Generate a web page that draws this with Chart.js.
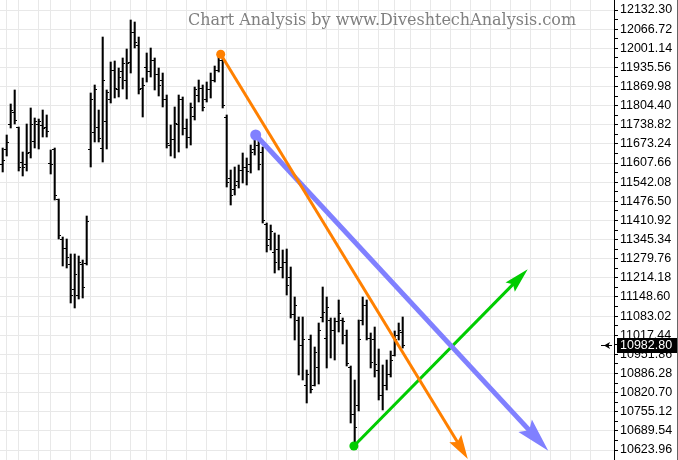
<!DOCTYPE html>
<html>
<head>
<meta charset="utf-8">
<script src="https://cdn.jsdelivr.net/npm/chart.js@4/dist/chart.umd.min.js"></script>
<style>
  html, body { margin: 0; padding: 0; background: #fff; }
  #wrap { width: 678px; height: 460px; }
</style>
</head>
<body>
<div id="wrap"><canvas id="myChart" width="678" height="460"></canvas></div>
<script>
// daily OHLC bars (bar index 0..100)
let opens = [
  11601.0, 11652.4, 11738.1, 11782.6, 11727.8, 11611.2, 11601.0, 11642.1, 11683.2, 11738.1,
  11734.7, 11727.8, 11607.8, 11652.4, 11481.0, 11343.9, 11316.4, 11258.2, 11172.5, 11155.3,
  11258.2, 11265.0, 11652.4, 11710.7, 11727.8, 11659.2, 11748.4, 11823.8, 11926.6, 11858.1,
  11919.8, 11892.3, 11954.0, 12053.5, 12012.3, 11864.9, 11936.9, 11919.8, 11960.9, 11909.5,
  11892.3, 11823.8, 11669.5, 11686.7, 11738.1, 11823.8, 11724.4, 11696.9, 11768.9, 11840.9,
  11861.5, 11823.8, 11858.1, 11892.3, 11926.6, 11960.9, 11762.1, 11553.0, 11515.3, 11542.7,
  11583.8, 11590.7, 11601.0, 11652.4, 11669.5, 11642.1, 11395.3, 11343.9, 11299.3, 11309.6,
  11247.9, 11268.4, 11217.0, 11086.8, 11069.6, 10983.9, 10846.8, 11001.1, 10846.8, 10905.1,
  11076.5, 11007.9, 11069.6, 11035.3, 11062.8, 11069.6, 11018.2, 10908.5, 10744.0, 10778.2,
  11069.6, 11121.0, 11007.9, 11001.1, 10898.2, 10812.5, 10846.8, 10881.1, 10949.6, 11018.2,
  11025.1
];
let highs = [
  11659.2, 11703.8, 11810.1, 11858.1, 11731.2, 11645.5, 11741.5, 11796.4, 11762.1, 11758.6,
  11789.5, 11772.4, 11652.4, 11659.2, 11484.4, 11354.1, 11347.3, 11295.9, 11295.9, 11289.0,
  11275.3, 11426.1, 11847.8, 11875.2, 11789.5, 12039.7, 11858.1, 11954.0, 11957.5, 11933.5,
  11967.8, 11998.6, 12098.0, 12091.2, 12039.7, 11899.2, 11984.9, 12002.0, 11967.8, 11933.5,
  11916.3, 11840.9, 11738.1, 11799.8, 11840.9, 11834.1, 11758.6, 11813.5, 11868.3, 11892.3,
  11875.2, 11885.5, 11916.3, 11940.3, 11978.0, 11971.2, 11772.4, 11583.8, 11594.1, 11601.0,
  11642.1, 11625.0, 11669.5, 11696.9, 11686.7, 11662.7, 11402.1, 11395.3, 11367.9, 11361.0,
  11309.6, 11313.0, 11251.3, 11148.5, 11079.9, 11079.9, 10898.2, 11018.2, 10977.1, 11059.3,
  11182.7, 11148.5, 11076.5, 11076.5, 11138.2, 11076.5, 11035.3, 10911.9, 10863.9, 11069.6,
  11148.5, 11138.2, 11025.1, 11045.6, 10970.2, 10915.4, 10932.5, 10963.4, 11031.9, 11059.3,
  11079.9
];
let lows = [
  11577.0, 11631.8, 11727.8, 11741.5, 11580.4, 11563.3, 11580.4, 11625.0, 11659.2, 11655.8,
  11696.9, 11696.9, 11570.1, 11481.0, 11347.3, 11254.7, 11247.9, 11127.9, 11110.8, 11141.6,
  11145.0, 11258.2, 11594.1, 11679.8, 11679.8, 11611.2, 11655.8, 11813.5, 11830.6, 11834.1,
  11861.5, 11827.2, 11916.3, 12002.0, 11844.4, 11765.5, 11885.5, 11902.6, 11858.1, 11837.5,
  11799.8, 11659.2, 11631.8, 11625.0, 11645.5, 11703.8, 11659.2, 11669.5, 11755.2, 11816.9,
  11786.1, 11816.9, 11830.6, 11885.5, 11919.8, 11796.4, 11525.5, 11463.8, 11498.1, 11522.1,
  11539.3, 11532.4, 11573.5, 11635.2, 11583.8, 11402.1, 11302.7, 11309.6, 11230.7, 11241.0,
  11213.6, 11155.3, 11076.5, 11001.1, 10881.1, 10863.9, 10785.1, 10819.4, 10843.4, 10850.2,
  11062.8, 10905.1, 10939.4, 10932.5, 11028.5, 10987.4, 10911.9, 10716.5, 10637.7, 10757.7,
  11052.5, 11001.1, 10905.1, 10874.2, 10795.4, 10761.1, 10829.7, 10874.2, 10946.2, 11001.1,
  10973.6
];
let closes = [
  11614.7, 11679.8, 11789.5, 11755.2, 11594.1, 11594.1, 11638.7, 11738.1, 11748.4, 11748.4,
  11724.4, 11714.1, 11601.0, 11498.1, 11357.6, 11316.4, 11282.2, 11151.9, 11223.9, 11268.4,
  11182.7, 11405.6, 11827.2, 11858.1, 11693.5, 11892.3, 11847.8, 11926.6, 11861.5, 11902.6,
  11947.2, 11950.6, 12053.5, 12019.2, 11858.1, 11871.8, 11919.8, 11960.9, 11909.5, 11875.2,
  11823.8, 11673.0, 11686.7, 11744.9, 11823.8, 11724.4, 11696.9, 11796.4, 11858.1, 11861.5,
  11796.4, 11858.1, 11892.3, 11926.6, 11960.9, 11806.6, 11539.3, 11494.7, 11532.4, 11583.8,
  11594.1, 11577.0, 11645.5, 11686.7, 11601.0, 11412.4, 11326.7, 11371.3, 11268.4, 11251.3,
  11268.4, 11189.6, 11086.8, 11121.0, 10983.9, 11001.1, 10881.1, 10829.7, 10956.5, 11035.3,
  11097.0, 11110.8, 11035.3, 11062.8, 11093.6, 11062.8, 10922.2, 10744.0, 10702.8, 11001.1,
  11121.0, 11007.9, 10925.6, 10915.4, 10812.5, 10846.8, 10881.1, 10932.5, 11001.1, 11035.3,
  10982.80
];
let lastPrice = 10982.80;

// price axis labels
let priceTicks = [
  12132.30, 12066.72, 12001.14, 11935.56, 11869.98, 11804.40, 11738.82, 11673.24,
  11607.66, 11542.08, 11476.50, 11410.92, 11345.34, 11279.76, 11214.18, 11148.60,
  11083.02, 11017.44, 10951.86, 10886.28, 10820.70, 10755.12, 10689.54, 10623.96
];
let yMin = 10589.70, yMax = 12166.58;
// bar index of each week start (vertical grid), the axis runs on past the last bar
let weekStarts = [1, 4, 9, 12, 17, 22, 27, 32, 36, 41, 46, 51, 56, 61, 66, 71, 76, 81, 84,
  89, 94, 98, 102, 107, 112, 117, 122, 127, 132, 137, 142, 147];
let xMin = -0.675, xMax = 152.825;

// drawn trend lines: [barIndex, price] at the dot and at the back of the arrowhead
let orangeLine = [[54.5, 11980.5], [113.8, 10648.7]];
let blueLine = [[63.25, 11703.8], [131.8, 10689.5]];
let greenLine = [[87.8, 10637.7], [127.75, 11194.4]];

let title = 'Chart Analysis by www.DiveshtechAnalysis.com';

// tiny open / close tick images used as point styles
function tickMark(side) {
  let c = document.createElement('canvas');
  c.width = 5; c.height = 1;
  let g = c.getContext('2d');
  g.fillStyle = '#000';
  g.fillRect(side == 'left' ? 0 : 3, 0, 2, 1);
  return c;
}

let minorTicks = [];
for (let i = 0; i < priceTicks.length - 1; i++) {
  minorTicks.push((priceTicks[i] + priceTicks[i + 1]) / 2);
}
let allTicks = priceTicks.concat(minorTicks).sort((a, b) => a - b);
let isMajor = v => priceTicks.some(p => Math.abs(p - v) < 0.001);

function trend(pts, color, width, dot, arrow) {
  return {
    type: 'line',
    data: pts.map(p => ({x: p[0], y: p[1]})),
    borderColor: color,
    borderWidth: width,
    pointRadius: [dot, 0],
    pointBackgroundColor: color,
    pointBorderWidth: 0,
    pointHoverRadius: 0,
    fill: false,
    tension: 0,
    arrow: arrow
  };
}

let watermark = {
  id: 'watermark',
  beforeDatasetsDraw(chart) {
    let ctx = chart.ctx;
    ctx.save();
    ctx.font = '16px "DejaVu Serif"';
    ctx.fillStyle = '#808080';
    ctx.textAlign = 'center';
    ctx.textBaseline = 'alphabetic';
    ctx.fillText(title, 382, 25);
    ctx.restore();
  }
};

let arrowHeads = {
  id: 'arrowHeads',
  afterDatasetsDraw(chart) {
    let {ctx, chartArea} = chart;
    ctx.save();
    ctx.beginPath();
    ctx.rect(chartArea.left, chartArea.top, chartArea.width, chartArea.height);
    ctx.clip();
    chart.data.datasets.forEach((ds, i) => {
      if (!ds.arrow) return;
      let pts = chart.getDatasetMeta(i).data;
      let a = pts[0], b = pts[1];
      let dx = b.x - a.x, dy = b.y - a.y, len = Math.hypot(dx, dy);
      let ux = dx / len, uy = dy / len, nx = -uy, ny = ux;
      let {reach, back, half} = ds.arrow;
      let tx = b.x + ux * reach, ty = b.y + uy * reach;
      ctx.beginPath();
      ctx.moveTo(tx, ty);
      ctx.lineTo(tx - ux * back + nx * half, ty - uy * back + ny * half);
      ctx.lineTo(b.x - ux * 1, b.y - uy * 1);
      ctx.lineTo(tx - ux * back - nx * half, ty - uy * back - ny * half);
      ctx.closePath();
      ctx.fillStyle = ds.borderColor;
      ctx.fill();
    });
    ctx.restore();
  }
};

let priceMarker = {
  id: 'priceMarker',
  afterDraw(chart) {
    let {ctx, chartArea} = chart;
    let y = Math.round(chart.scales.y.getPixelForValue(lastPrice));
    let r = chartArea.right;
    ctx.save();
    ctx.fillStyle = '#000';
    ctx.fillRect(r + 3, y - 7, 61, 15);
    ctx.fillStyle = '#fff';
    ctx.font = '12.5px "Liberation Sans"';
    ctx.textBaseline = 'middle';
    ctx.fillText(lastPrice.toFixed(2), r + 6, y + 1);
    // little arrow left of the axis
    ctx.strokeStyle = '#000';
    ctx.lineWidth = 1;
    ctx.beginPath();
    ctx.moveTo(r - 13, y + 0.5);
    ctx.lineTo(r - 2, y + 0.5);
    ctx.stroke();
    ctx.fillStyle = '#000';
    ctx.beginPath();
    ctx.moveTo(r - 10, y + 0.5);
    ctx.lineTo(r - 4, y - 3);
    ctx.lineTo(r - 5.5, y + 0.5);
    ctx.lineTo(r - 4, y + 4);
    ctx.closePath();
    ctx.fill();
    // frame line on the right edge
    ctx.fillStyle = '#666';
    ctx.fillRect(chart.width - 1, 0, 1, chart.height);
    ctx.restore();
  }
};

let ctx = document.getElementById('myChart');
let myChart = new Chart(ctx, {
  type: 'bar',
  data: {
    datasets: [
      trend(orangeLine, '#ff8000', 3, 4.5, {reach: 19, back: 24, half: 7}),
      trend(blueLine, '#8080ff', 5, 5.5, {reach: 27, back: 34, half: 9.2}),
      trend(greenLine, '#00cc00', 3, 4.5, {reach: 20, back: 25, half: 6.5}),
      {
        type: 'scatter',
        data: opens.map((v, i) => ({x: i, y: v})),
        pointStyle: tickMark('left'),
        pointRadius: 2,
        pointHoverRadius: 0,
        pointBorderWidth: 0
      },
      {
        type: 'scatter',
        data: closes.map((v, i) => ({x: i, y: v})),
        pointStyle: tickMark('right'),
        pointRadius: 2,
        pointHoverRadius: 0,
        pointBorderWidth: 0
      },
      {
        type: 'bar',
        data: highs.map((h, i) => ({x: i, y: [lows[i], h]})),
        backgroundColor: '#000',
        borderWidth: 0,
        barThickness: 1.4
      }
    ]
  },
  options: {
    responsive: false,
    animation: false,
    devicePixelRatio: 1,
    layout: {padding: 0, autoPadding: false},
    plugins: {
      legend: {display: false},
      tooltip: {enabled: false},
      title: {display: false}
    },
    events: [],
    scales: {
      x: {
        type: 'linear',
        offset: false,
        min: xMin,
        max: xMax,
        afterBuildTicks: s => { s.ticks = weekStarts.map(v => ({value: v})); },
        afterFit: s => { s.height = 0; s.paddingLeft = 0; s.paddingRight = 0; },
        ticks: {display: false},
        grid: {color: '#e8e8e8', drawTicks: false, offset: false},
        border: {display: false}
      },
      y: {
        type: 'linear',
        position: 'right',
        min: yMin,
        max: yMax,
        afterBuildTicks: s => { s.ticks = allTicks.map(v => ({value: v})); },
        afterFit: s => { s.width = 64; s.paddingTop = 0; s.paddingBottom = 0; },
        ticks: {
          autoSkip: false,
          padding: 2,
          color: '#000',
          font: {family: '"Liberation Sans", Arial', size: 12.5},
          callback: v => isMajor(v) ? v.toFixed(2) : ''
        },
        grid: {
          color: c => isMajor(c.tick.value) ? '#e8e8e8' : 'rgba(0,0,0,0)',
          tickColor: '#000',
          tickLength: 4
        },
        border: {color: '#000', width: 1}
      }
    }
  },
  plugins: [watermark, arrowHeads, priceMarker]
});
</script>
</body>
</html>
